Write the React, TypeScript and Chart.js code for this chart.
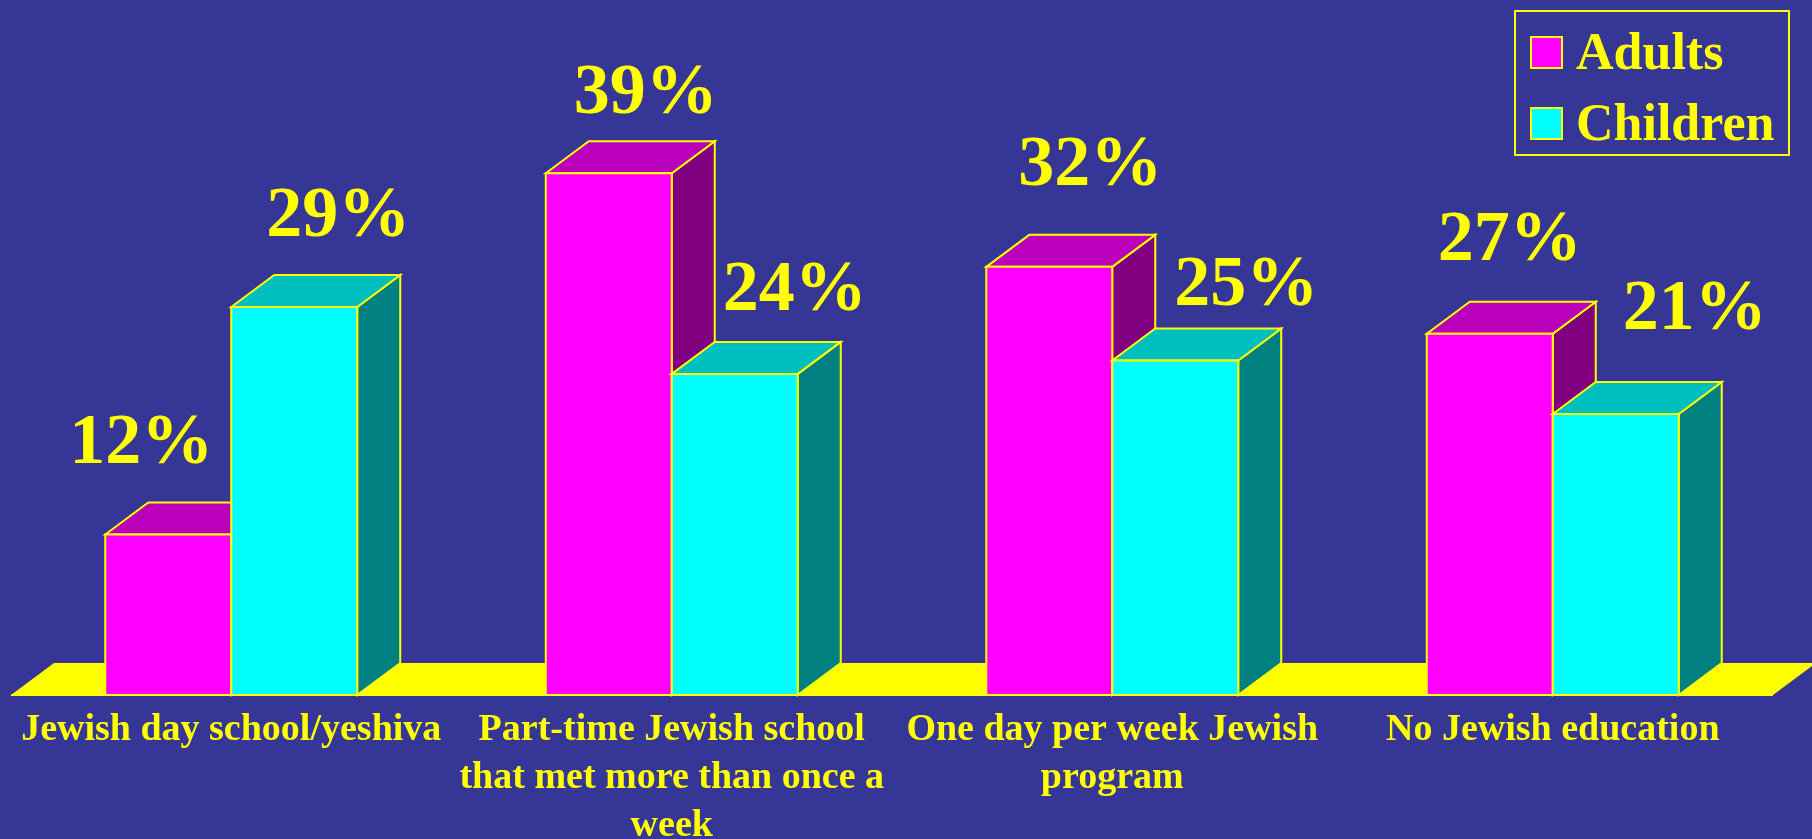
import React, { useEffect, useRef } from 'react';
import { Chart, registerables } from 'chart.js';

Chart.register(...registerables);

// ---- data ----
const CATEGORIES: string[][] = [
  ['Jewish day school/yeshiva'],
  ['Part-time Jewish school', 'that met more than once a', 'week'],
  ['One day per week Jewish', 'program'],
  ['No Jewish education'],
];
const SERIES_NAMES = ['Adults', 'Children'];
const ADULTS = [12, 39, 32, 27];
const CHILDREN = [29, 24, 25, 21];
const Y_MAX = 50;

// ---- styles ----
const W = 1812;
const H = 839;
const BG = '#353696';
const YELLOW = '#FFFF00';
const FONT = "'Liberation Serif', 'Times New Roman', serif";
const FACES = [
  { front: '#FF00FF', top: '#BB00BB', side: '#800080' },
  { front: '#00FFFF', top: '#00BFBF', side: '#008080' },
];
const DEPTH_X = 43;
const DEPTH_Y = -32;
// value label nudges relative to the bar's front top centre [dx, dy]
const LABEL_NUDGE: number[][][] = [
  [[-27, -71], [37, -60], [41, -82], [20, -74]],
  [[44, -71], [60, -64], [71, -56], [79, -85]],
];

function poly(ctx: CanvasRenderingContext2D, pts: number[][], fill: string) {
  ctx.beginPath();
  ctx.moveTo(pts[0][0], pts[0][1]);
  for (let i = 1; i < pts.length; i++) ctx.lineTo(pts[i][0], pts[i][1]);
  ctx.closePath();
  ctx.fillStyle = fill;
  ctx.fill();
  ctx.strokeStyle = YELLOW;
  ctx.lineWidth = 2;
  ctx.lineJoin = 'miter';
  ctx.stroke();
}

const bgPlugin = {
  id: 'bg',
  beforeDraw(chart: any) {
    const ctx = chart.ctx as CanvasRenderingContext2D;
    ctx.save();
    ctx.fillStyle = BG;
    ctx.fillRect(0, 0, chart.width, chart.height);
    ctx.restore();
  },
};

const threeDPlugin = {
  id: 'threeD',
  beforeDatasetsDraw(chart: any) {
    const ctx = chart.ctx as CanvasRenderingContext2D;
    const { left, right, bottom } = chart.chartArea;
    ctx.save();
    // floor
    ctx.beginPath();
    ctx.moveTo(left, bottom);
    ctx.lineTo(right, bottom);
    ctx.lineTo(right + DEPTH_X, bottom + DEPTH_Y);
    ctx.lineTo(left + DEPTH_X, bottom + DEPTH_Y);
    ctx.closePath();
    ctx.fillStyle = YELLOW;
    ctx.fill();

    const metas = chart.data.datasets.map((_: any, i: number) => chart.getDatasetMeta(i));
    for (let c = 0; c < chart.data.labels.length; c++) {
      for (let d = 0; d < metas.length; d++) {
        const bar = metas[d].data[c];
        if (!bar) continue;
        const { x, y, base, width } = bar.getProps(['x', 'y', 'base', 'width'], true);
        const l = x - width / 2;
        const r = x + width / 2;
        const f = FACES[d];
        poly(ctx, [[r, y], [r + DEPTH_X, y + DEPTH_Y], [r + DEPTH_X, base + DEPTH_Y], [r, base]], f.side);
        poly(ctx, [[l, y], [l + DEPTH_X, y + DEPTH_Y], [r + DEPTH_X, y + DEPTH_Y], [r, y]], f.top);
        poly(ctx, [[l, y], [r, y], [r, base], [l, base]], f.front);
      }
    }
    // front edge of floor
    ctx.beginPath();
    ctx.moveTo(left, bottom);
    ctx.lineTo(right, bottom);
    ctx.strokeStyle = YELLOW;
    ctx.lineWidth = 2;
    ctx.stroke();

    // value labels
    ctx.fillStyle = YELLOW;
    ctx.font = `bold 72px ${FONT}`;
    ctx.textAlign = 'center';
    ctx.textBaseline = 'alphabetic';
    for (let d = 0; d < metas.length; d++) {
      const vals = chart.data.datasets[d].data as number[];
      metas[d].data.forEach((bar: any, i: number) => {
        const { x, y } = bar.getProps(['x', 'y'], true);
        const n = LABEL_NUDGE[d][i];
        ctx.fillText(`${vals[i]}%`, x + n[0], y + n[1]);
      });
    }
    ctx.restore();
    return false;
  },
  afterDraw(chart: any) {
    const ctx = chart.ctx as CanvasRenderingContext2D;
    ctx.save();
    // legend box
    ctx.strokeStyle = YELLOW;
    ctx.lineWidth = 2;
    ctx.strokeRect(1515, 11, 274, 144);
    ctx.font = `bold 52px ${FONT}`;
    ctx.textAlign = 'left';
    ctx.textBaseline = 'alphabetic';
    chart.data.datasets.forEach((ds: any, i: number) => {
      const top = 37 + i * 71;
      ctx.fillStyle = FACES[i].front;
      ctx.fillRect(1531, top, 31, 31);
      ctx.strokeStyle = YELLOW;
      ctx.strokeRect(1531, top, 31, 31);
      ctx.fillStyle = YELLOW;
      ctx.fillText(ds.label, 1576, top + 32);
    });
    ctx.restore();
  },
};

export default function App() {
  const canvasRef = useRef<HTMLCanvasElement | null>(null);

  useEffect(() => {
    if (!canvasRef.current) return;
    const chart = new Chart(canvasRef.current, {
      type: 'bar',
      data: {
        labels: CATEGORIES,
        datasets: [
          { label: SERIES_NAMES[0], data: ADULTS, backgroundColor: FACES[0].front, borderColor: YELLOW, borderWidth: 2 },
          { label: SERIES_NAMES[1], data: CHILDREN, backgroundColor: FACES[1].front, borderColor: YELLOW, borderWidth: 2 },
        ],
      },
      options: {
        responsive: false,
        animation: false,
        layout: { padding: { left: 11, right: 39, top: 26, bottom: 0 } },
        datasets: { bar: { categoryPercentage: 0.572, barPercentage: 1 } },
        plugins: { legend: { display: false }, tooltip: { enabled: false } },
        scales: {
          x: {
            grid: { display: false, drawTicks: false },
            border: { display: false },
            ticks: {
              color: YELLOW,
              padding: 11,
              maxRotation: 0,
              autoSkip: false,
              font: { family: FONT, size: 38, weight: 'bold', lineHeight: '48px' },
            },
            afterFit: (scale: any) => { scale.height = 144; },
          },
          y: { display: false, min: 0, max: Y_MAX },
        },
      },
      plugins: [bgPlugin, threeDPlugin],
    });
    return () => chart.destroy();
  }, []);

  return (
    <div style={{ position: 'fixed', left: 0, top: 0, width: W, height: H, background: BG }}>
      <canvas ref={canvasRef} width={W} height={H} style={{ display: 'block', width: W, height: H }} />
    </div>
  );
}
